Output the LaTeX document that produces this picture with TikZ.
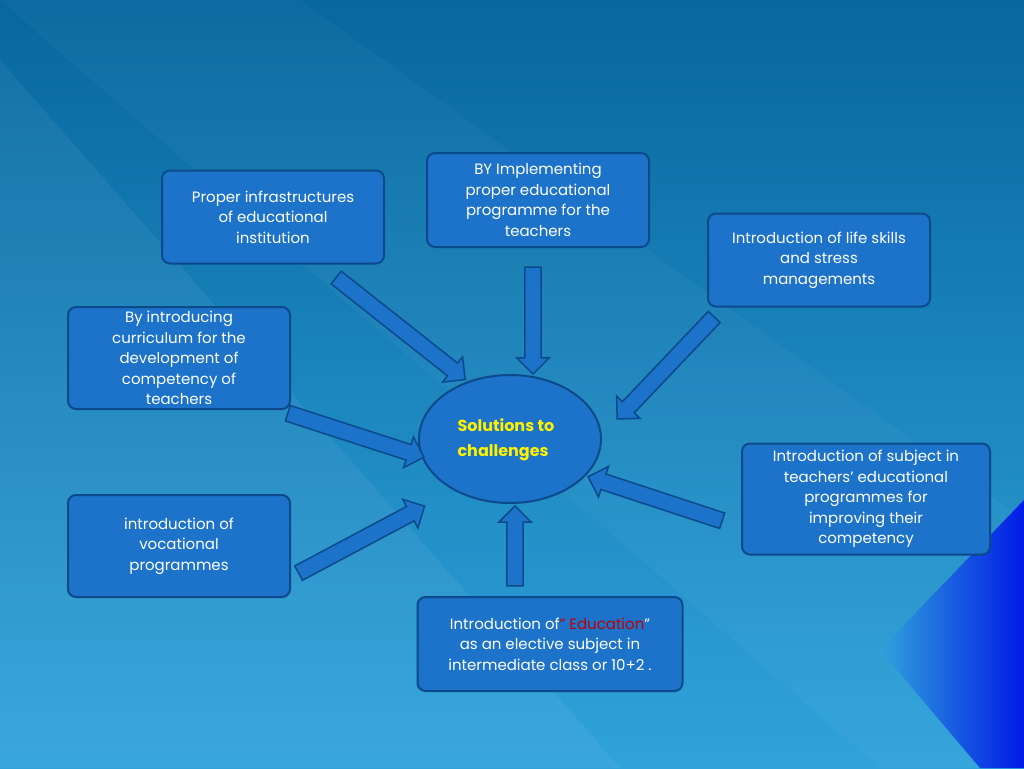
\documentclass[tikz,border=0pt]{standalone}
\usepackage{fontspec}
\setmainfont{Poppins}
\usetikzlibrary{shapes.arrows,shapes.geometric,calc}
\definecolor{boxfill}{HTML}{1C73C9}
\definecolor{boxline}{HTML}{0C4A8C}
\definecolor{bgtop}{HTML}{07679E}
\definecolor{bgbot}{HTML}{30A3DB}
\tikzset{
  box/.style={draw=boxline, line width=2pt, fill=boxfill, rounded corners=8pt, text=white, align=center, font=\fontsize{15}{20.5}\selectfont, inner sep=0pt},
  barrow/.style={single arrow, draw=boxline, line width=1.5pt, fill=boxfill, single arrow head extend=8pt, inner sep=5pt, minimum width=10pt, shape border uses incircle}
}
\newcommand{\blockarrow}[2]{%
  \path let \p1=($(#2)-(#1)$), \n1={atan2(\y1,\x1)}, \n2={veclen(\x1,\y1)} in
    node[barrow, minimum height=\n2, rotate=\n1] at ($(#1)!0.5!(#2)$) {};}
\begin{document}
\begin{tikzpicture}[x=1pt,y=-1pt]
\useasboundingbox (0,0) rectangle (1024,768);
\shade[top color=bgtop, bottom color=bgbot] (0,0) rectangle (1024,768);
\fill[white, opacity=0.05] (0,60) -- (0,768) -- (620,768) -- cycle;
\fill[white, opacity=0.03] (0,0) -- (300,0) -- (1024,520) -- (1024,768) -- (880,768) -- cycle;
\shade[left color=bgbot, right color=blue!75!bgtop] (880,650) -- (1024,500) -- (1024,768) -- (980,768) -- cycle;
\node[box, minimum width=222pt, minimum height=94pt] (b1) at (538,200) {BY Implementing\\proper educational\\programme for the\\teachers};
\node[box, minimum width=222pt, minimum height=93pt] (b2) at (273,217) {Proper infrastructures\\of educational\\institution};
\node[box, minimum width=222pt, minimum height=93pt] (b3) at (819,260) {Introduction of life skills\\and stress\\managements};
\node[box, minimum width=222pt, minimum height=102pt] (b4) at (179,358) {By introducing\\curriculum for the\\development of\\competency of\\teachers};
\node[box, minimum width=248pt, minimum height=111pt] (b5) at (866,499) {Introduction of subject in\\teachers' educational\\programmes for\\improving their\\competency};
\node[box, minimum width=222pt, minimum height=102pt] (b6) at (179,546) {introduction of\\vocational\\programmes};
\node[box, minimum width=265pt, minimum height=94pt] (b7) at (550,644) {Introduction of{\color{red!75!black}" Education}"\\as an elective subject in\\intermediate class or 10+2 .};
\node[ellipse, draw=boxline, line width=2pt, fill=boxfill, minimum width=182pt, minimum height=128pt] (c) at (510,439) {};
\node[text=yellow, align=left, font=\fontsize{16}{25}\selectfont\bfseries, anchor=west] (ct) at (454,440) {Solutions to\\challenges};
\coordinate (a1s) at (333,275); \coordinate (a1e) at (462,377);
\coordinate (a2s) at (533,263); \coordinate (a2e) at (533,370);
\coordinate (a3s) at (717,314); \coordinate (a3e) at (620,416);
\coordinate (a4s) at (284,412); \coordinate (a4e) at (420,456);
\coordinate (a5s) at (726,522); \coordinate (a5e) at (592,478);
\coordinate (a6s) at (515,590); \coordinate (a6e) at (515,510);
\coordinate (a7s) at (295,575); \coordinate (a7e) at (421,508);
\blockarrow{a1s}{a1e}\blockarrow{a2s}{a2e}\blockarrow{a3s}{a3e}
\blockarrow{a4s}{a4e}\blockarrow{a5s}{a5e}\blockarrow{a6s}{a6e}\blockarrow{a7s}{a7e}
\end{tikzpicture}
\end{document}
